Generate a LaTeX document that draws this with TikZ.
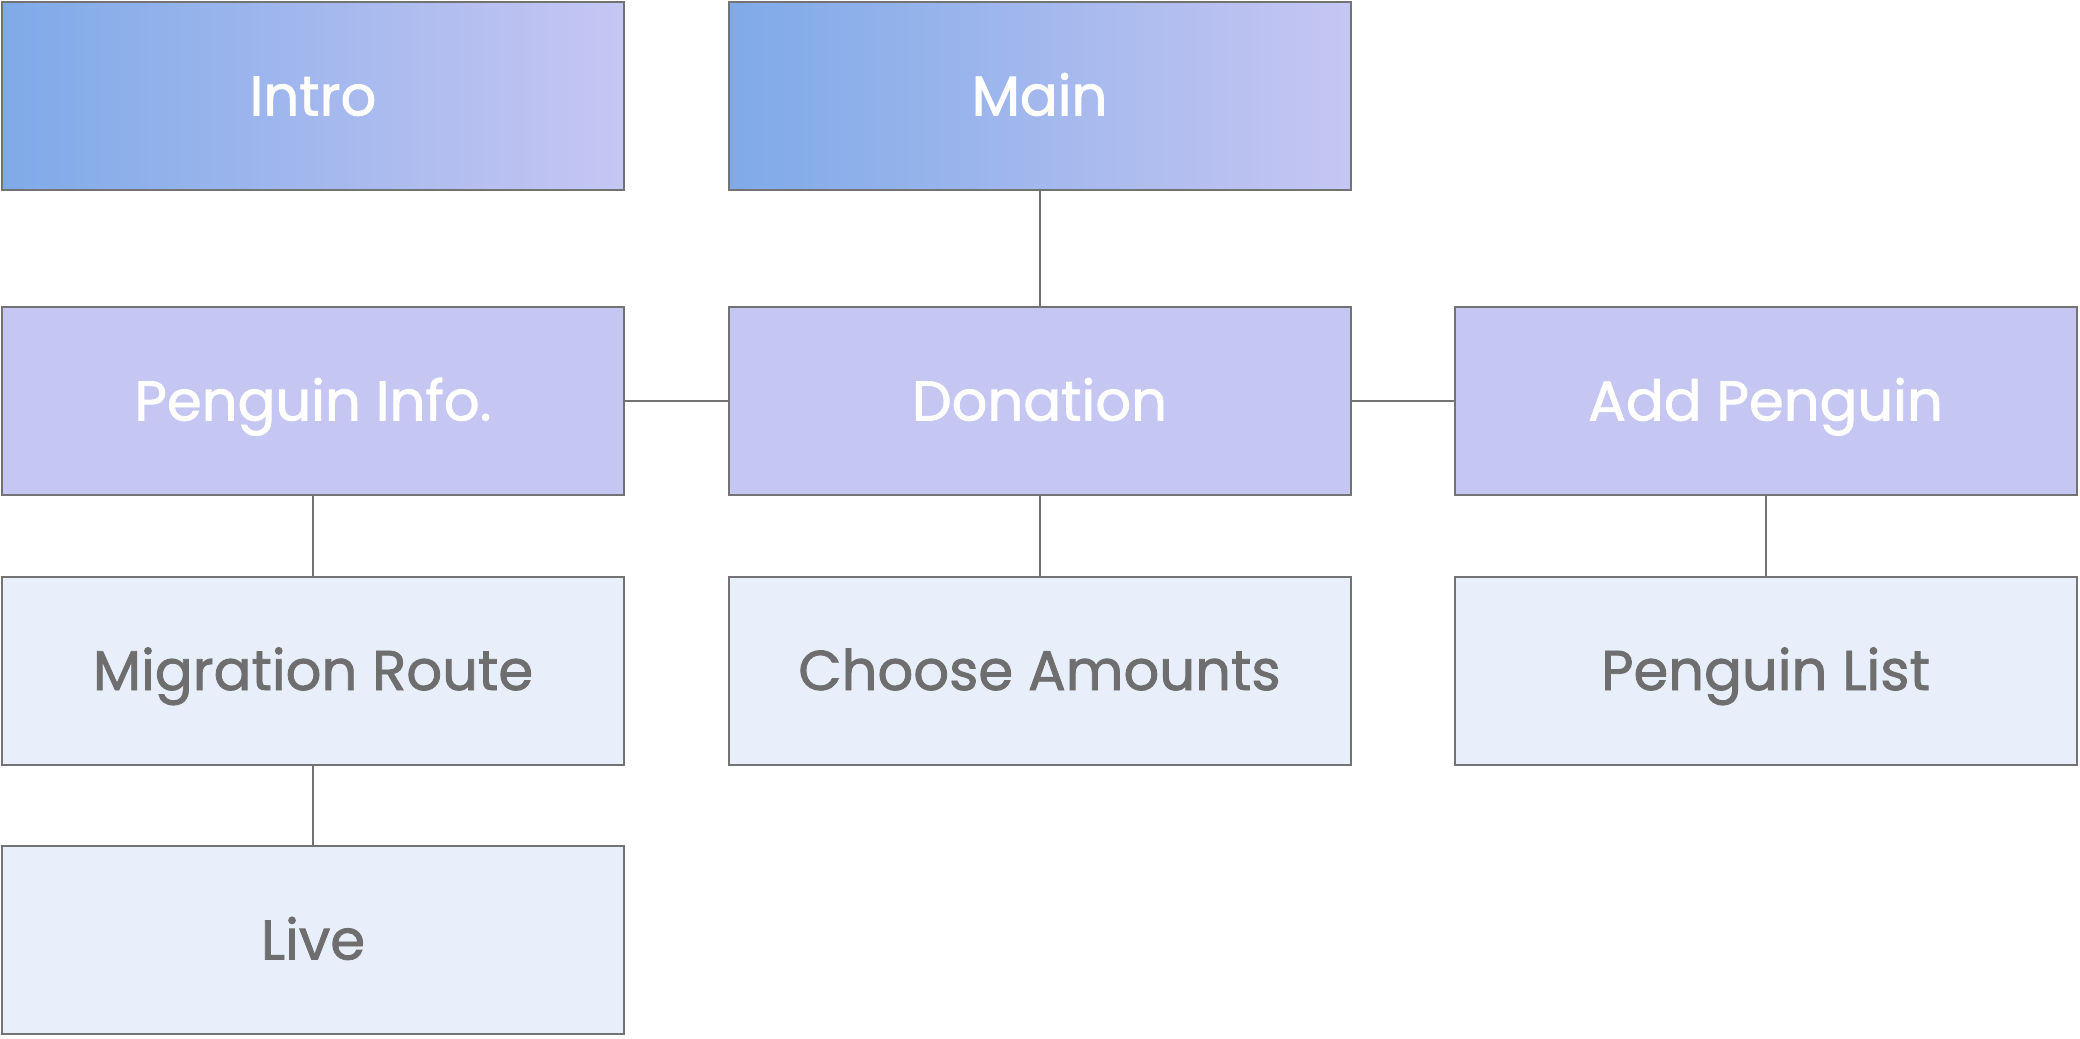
\documentclass[tikz,border=0pt]{standalone}
\usepackage{fontspec}
\setmainfont{Poppins}[FakeBold=1.5]
\definecolor{edge}{HTML}{737373}
\definecolor{gradL}{HTML}{7FAAE8}
\definecolor{gradR}{HTML}{C6C6F3}
\definecolor{midfill}{HTML}{C6C6F3}
\definecolor{lowfill}{HTML}{E8EEFA}
\definecolor{lowtext}{HTML}{6E6E6E}
\tikzset{
  page/.style={draw=edge, line width=1pt, minimum width=311pt, minimum height=94pt,
    inner sep=0pt, text height=19.5pt, text depth=0pt, font=\fontsize{28}{31}\selectfont},
  toppage/.style={page, left color=gradL, right color=gradR, text=white},
  midpage/.style={page, fill=midfill, text=white},
  lowpage/.style={page, fill=lowfill, text=lowtext},
  link/.style={draw=edge, line width=1pt}
}
\begin{document}
\begin{tikzpicture}[x=0.5pt, y=-0.5pt]
        \useasboundingbox (0,0) rectangle (2080,1038);
        \node[toppage] (intro) at (313, 96) {Intro};
        \node[toppage] (main) at (1039.5, 96) {Main};
        \node[midpage] (info) at (313, 401) {Penguin Info.};
        \node[midpage] (donation) at (1039.5, 401) {Donation};
        \node[midpage] (add) at (1765.5, 401) {Add Penguin};
        \node[lowpage] (route) at (313, 670.5) {Migration Route};
        \node[lowpage] (amounts) at (1039.5, 670.5) {Choose Amounts};
        \node[lowpage] (list) at (1765.5, 670.5) {Penguin List};
        \node[lowpage] (live) at (313, 940) {Live};
        \draw[link] (main) -- (donation);
        \draw[link] (info) -- (donation);
        \draw[link] (donation) -- (add);
        \draw[link] (info) -- (route);
        \draw[link] (route) -- (live);
        \draw[link] (donation) -- (amounts);
        \draw[link] (add) -- (list);
      \end{tikzpicture}
\end{document}
